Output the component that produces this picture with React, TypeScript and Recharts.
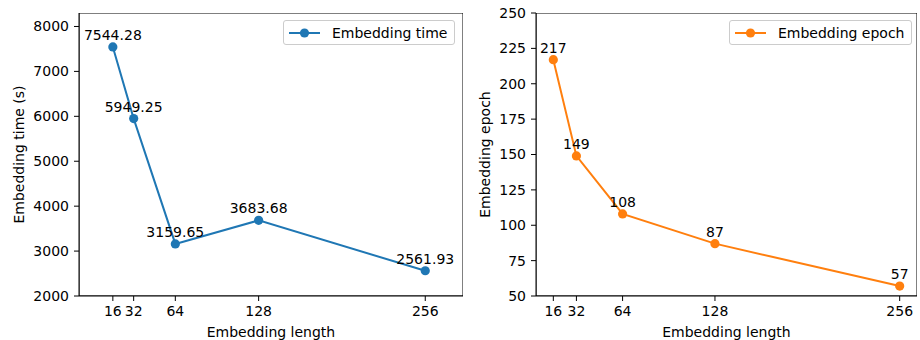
import { LineChart, Line, XAxis, YAxis, LabelList, Legend, ReferenceArea, Label } from "recharts";

const lengths = [16, 32, 64, 128, 256];
const timeValues = [7544.28, 5949.25, 3159.65, 3683.68, 2561.93];
const epochValues = [217, 149, 108, 87, 57];

const timeTicks = [2000, 3000, 4000, 5000, 6000, 7000, 8000];
const epochTicks = [50, 75, 100, 125, 150, 175, 200, 225, 250];

const BLUE = "#1f77b4";
const ORANGE = "#ff7f0e";
const FONT = "'DejaVu Sans', sans-serif";

const timeData = lengths.map((len, i) => ({ len, value: timeValues[i] }));
const epochData = lengths.map((len, i) => ({ len, value: epochValues[i] }));

const tickStyle = { fontSize: 14, fill: "#000", fontFamily: FONT };

function LegendBox({ payload, color }: any) {
  const item = payload && payload[0];
  return (
    <div
      style={{
        display: "flex",
        alignItems: "center",
        height: 25,
        boxSizing: "border-box",
        border: "1px solid #cccccc",
        borderRadius: 3,
        background: "rgba(255,255,255,0.8)",
        fontFamily: FONT,
        fontSize: 14,
        color: "#000",
        paddingLeft: 4,
        whiteSpace: "nowrap",
      }}
    >
      <svg width={33} height={12} style={{ marginRight: 11 }}>
        <line x1={1} y1={6} x2={32} y2={6} stroke={color} strokeWidth={2} />
        <circle cx={16.5} cy={6} r={4.6} fill={color} />
      </svg>
      <span>{item ? item.value : ""}</span>
    </div>
  );
}

type PanelProps = {
  data: { len: number; value: number }[];
  color: string;
  name: string;
  yLabel: string;
  yDomain: [number, number];
  xDomain: [number, number];
  yTicks: number[];
  yAxisWidth: number;
  width: number;
  rightMargin: number;
  yLabelX: number;
  legendLeft: number;
  legendWidth: number;
};

function Panel(p: PanelProps) {
  return (
    <LineChart
      width={p.width}
      height={340}
      data={p.data}
      margin={{ top: 13, right: p.rightMargin, left: 0, bottom: 0 }}
    >
      <XAxis
        type="number"
        dataKey="len"
        domain={p.xDomain}
        ticks={lengths}
        interval={0}
        allowDataOverflow
        height={44}
        stroke="#000"
        tickSize={5}
        tickMargin={5}
        tick={tickStyle}
      >
        <Label
          value="Embedding length"
          position="insideBottom"
          offset={3}
          style={{ fontSize: 14, fill: "#000", fontFamily: FONT }}
        />
      </XAxis>
      <YAxis
        type="number"
        domain={p.yDomain}
        ticks={p.yTicks}
        interval={0}
        allowDataOverflow
        width={p.yAxisWidth}
        stroke="#000"
        tickSize={5}
        tickMargin={5}
        tick={tickStyle}
      >
        <Label
          value={p.yLabel}
          angle={-90}
          position="insideLeft"
          offset={p.yLabelX}
          style={{ fontSize: 14, fill: "#000", fontFamily: FONT, textAnchor: "middle" }}
        />
      </YAxis>
      <ReferenceArea
        x1={p.xDomain[0]}
        x2={p.xDomain[1]}
        y1={p.yDomain[0]}
        y2={p.yDomain[1]}
        fill="none"
        stroke="#000"
        strokeWidth={1}
        ifOverflow="hidden"
      />
      <Legend
        layout="horizontal"
        verticalAlign="middle"
        align="center"
        wrapperStyle={{ top: 20, left: p.legendLeft, width: p.legendWidth }}
        content={(props: any) => <LegendBox payload={props.payload} color={p.color} />}
      />
      <Line
        type="linear"
        dataKey="value"
        name={p.name}
        stroke={p.color}
        strokeWidth={2}
        dot={{ r: 4.6, fill: p.color, stroke: p.color, strokeWidth: 0 }}
        activeDot={false}
        isAnimationActive={false}
      >
        <LabelList
          dataKey="value"
          position="top"
          offset={7}
          style={{ fontSize: 14, fill: "#000", fontFamily: FONT }}
        />
      </Line>
    </LineChart>
  );
}

export default function App() {
  return (
    <div style={{ position: "absolute", left: 0, top: 0, width: 920, height: 340, background: "#fff" }}>
      <div style={{ position: "absolute", left: 0, top: 0 }}>
        <Panel
          data={timeData}
          color={BLUE}
          name="Embedding time"
          yLabel="Embedding time (s)"
          yDomain={[2000, 8300]}
          xDomain={[-10, 285]}
          yTicks={timeTicks}
          yAxisWidth={79}
          width={470}
          rightMargin={7}
          yLabelX={19}
          legendLeft={283}
          legendWidth={172}
        />
      </div>
      <div style={{ position: "absolute", left: 460, top: 0 }}>
        <Panel
          data={epochData}
          color={ORANGE}
          name="Embedding epoch"
          yLabel="Embedding epoch"
          yDomain={[50, 250]}
          xDomain={[4, 268]}
          yTicks={epochTicks}
          yAxisWidth={76}
          width={460}
          rightMargin={3}
          yLabelX={25}
          legendLeft={269}
          legendWidth={183}
        />
      </div>
    </div>
  );
}
